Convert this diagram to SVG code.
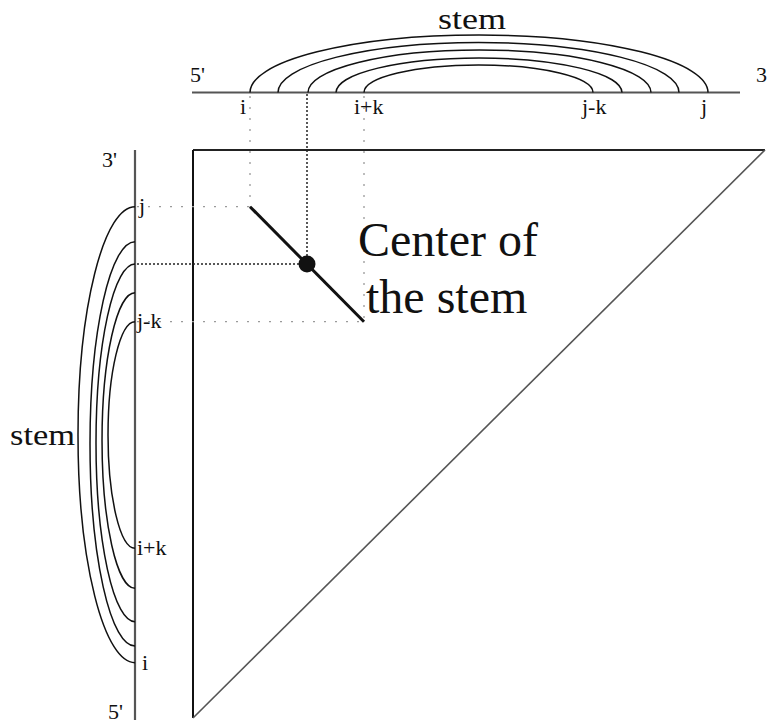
<svg xmlns="http://www.w3.org/2000/svg" width="767" height="724" viewBox="0 0 767 724">
<style>
  .t { font-family: "Liberation Serif", "Times New Roman", serif; fill: #111; }
  .lbl { font-size: 22px; }
  .big { font-size: 48px; }
  .stem { font-size: 30px; }
  .arc { fill: none; stroke: #111; stroke-width: 1.5; }
  .strand { stroke: #555; stroke-width: 2.2; fill: none; }
  .light { stroke: #9a9a9a; stroke-width: 1.3; stroke-dasharray: 2 9; fill: none; }
  .dark { stroke: #222; stroke-width: 1.5; stroke-dasharray: 2 2; fill: none; }
</style>
<rect width="767" height="724" fill="#fff"/>

<g id="top-strand">
  <line class="strand" x1="192" y1="92.5" x2="740" y2="92.5"/>
  <text class="t stem" x="438" y="29" textLength="68" lengthAdjust="spacingAndGlyphs">stem</text>
  <text class="t lbl" x="190" y="82">5'</text>
  <text class="t lbl" x="756" y="82">3'</text>
  <text class="t lbl" x="240" y="114">i</text>
  <text class="t lbl" x="354" y="114">i+k</text>
  <text class="t lbl" x="582" y="114">j-k</text>
  <text class="t lbl" x="701" y="114">j</text>
  <path class="arc" d="M250 92.5 A229 57.5 0 0 1 708 92.5"/>
  <path class="arc" d="M278 92.5 A200.5 50 0 0 1 679 92.5"/>
  <path class="arc" d="M308 92.5 A171.5 42.5 0 0 1 651 92.5"/>
  <path class="arc" d="M336 92.5 A143 34.5 0 0 1 622 92.5"/>
  <path class="arc" d="M364 92.5 A114.5 27.5 0 0 1 593 92.5"/>
</g>

<g id="left-strand">
  <line class="strand" x1="135" y1="150" x2="135" y2="720"/>
  <text class="t stem" x="10" y="445" textLength="65" lengthAdjust="spacingAndGlyphs">stem</text>
  <text class="t lbl" x="102" y="167">3'</text>
  <text class="t lbl" x="108" y="719">5'</text>
  <text class="t lbl" x="139" y="213">j</text>
  <text class="t lbl" x="137" y="328">j-k</text>
  <text class="t lbl" x="137" y="555">i+k</text>
  <text class="t lbl" x="142" y="670">i</text>
  <path class="arc" d="M135 206.7 A57 228 0 0 0 135 662.7"/>
  <path class="arc" d="M135 241.7 A45 202.15 0 0 0 135 646"/>
  <path class="arc" d="M135 264 A39 178.85 0 0 0 135 621.7"/>
  <path class="arc" d="M135 292.7 A33 147.8 0 0 0 135 588.3"/>
  <path class="arc" d="M135 321.7 A27 113.3 0 0 0 135 548.3"/>
</g>

<g id="matrix">
  <line x1="193" y1="150" x2="765" y2="150" stroke="#222" stroke-width="2.2"/>
  <line x1="193" y1="150" x2="193" y2="718" stroke="#111" stroke-width="2"/>
  <line x1="765" y1="150" x2="193" y2="718" stroke="#555" stroke-width="1.6"/>
</g>

<g id="connectors">
  <line class="light" x1="250" y1="96" x2="250" y2="206.7"/>
  <line class="light" x1="364" y1="96" x2="364" y2="321.7"/>
  <line class="light" x1="137" y1="206.7" x2="250" y2="206.7"/>
  <line class="light" x1="137" y1="321.7" x2="364" y2="321.7"/>
  <line class="dark" x1="307" y1="94" x2="307" y2="264"/>
  <line class="dark" x1="137" y1="264" x2="307" y2="264"/>
</g>

<g id="stem-diagonal">
  <line x1="250" y1="206.7" x2="364" y2="321.7" stroke="#111" stroke-width="3"/>
  <circle cx="307" cy="264" r="8.5" fill="#111"/>
</g>

<g id="center-label">
  <text class="t big" x="358" y="256">Center of</text>
  <text class="t big" x="366" y="313">the stem</text>
</g>
</svg>
